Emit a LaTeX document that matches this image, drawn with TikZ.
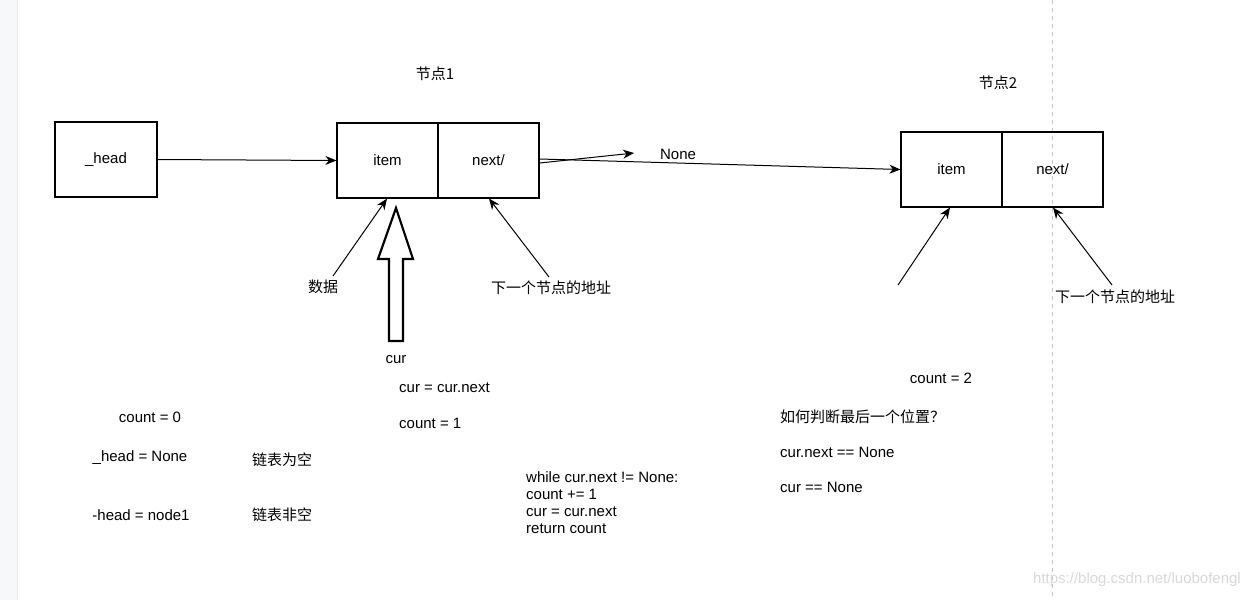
\documentclass[tikz,border=0pt]{standalone}
\usepackage{fontspec}
\setmainfont{Liberation Sans}
\newfontfamily\cjk{Noto Sans CJK SC}
\usetikzlibrary{arrows.meta}
\definecolor{stripbg}{HTML}{F7F8FA}
\definecolor{stripline}{HTML}{E8E9EC}
\definecolor{dashgray}{HTML}{C8C8C8}
\definecolor{wmark}{HTML}{D8D8D8}
\begin{document}
\begin{tikzpicture}[x=1pt,y=-1pt,
  every node/.style={font=\fontsize{15}{17}\selectfont, inner sep=0pt},
  box/.style={draw, line width=1.2pt, minimum width=101pt, minimum height=75pt},
  lblL/.style={anchor=west},
  conn/.style={line width=1pt, -{Stealth[length=11pt,width=9pt,inset=3.5pt]}},
  hollow/.style={draw, line width=2.2pt, fill=white, line join=miter}
]
\useasboundingbox (0,0) rectangle (1249,600);
\fill[stripbg] (0,0) rectangle (17,600);
\draw[stripline, line width=1pt] (17.5,0) -- (17.5,600);
\draw[dashgray, line width=1pt, dash pattern=on 4pt off 4pt] (1052,0) -- (1052,600);

% boxes
\node[box, minimum width=102pt] (head) at (106,159.5) {\_head};
\node[box] (item1) at (387.5,160.5) {item};
\node[box] (next1) at (488.5,160.5) {next/};
\node[box] (item2) at (951.5,169.5) {item};
\node[box] (next2) at (1052.5,169.5) {next/};

\node (t1) at (435,74) {\cjk 节点1};
\node (t2) at (998,83) {\cjk 节点2};

% connectors
\draw[conn] (head.east) -- (item1.west);
\coordinate (noneTip) at (634,153);
\draw[conn] ([yshift=-2.5pt]next1.east) -- (noneTip);
\node (none) at (678,154) {None};
\draw[conn] ([yshift=1.5pt]next1.east) -- (item2.west);

\node (data) at (323,287) {\cjk 数据};
\coordinate (dataS) at (333,276);
\draw[conn] (dataS) -- ([xshift=-0.5pt]item1.south);
\node (addr1) at (551,288) {\cjk 下一个节点的地址};
\coordinate (addr1S) at (549,277);
\draw[conn] (addr1S) -- (489,198.5);

\coordinate (itemS2) at (898,285);
\draw[conn] (itemS2) -- (950,207.5);
\node (addr2) at (1115,297) {\cjk 下一个节点的地址};
\coordinate (addr2S) at (1112,285);
\draw[conn] (addr2S) -- (1053,207.5);

% hollow arrow (cur)
\draw[hollow] (396,208) -- (413,259) -- (403,259) -- (403,341) -- (389,341) -- (389,259) -- (378,259) -- cycle;
\node (cur) at (396,360) {cur};

% texts
\node[lblL] (cc) at (399,388) {cur = cur.next};
\node[lblL] (c1) at (399,423) {count = 1};
\node (c0) at (150,417) {count = 0};
\node (hn) at (140,458) {\_head = None};
\node (empty) at (282,460) {\cjk 链表为空};
\node (hn1) at (141,515) {-head = node1};
\node (nempty) at (282,515) {\cjk 链表非空};

\node[lblL] (w1) at (526,477) {while cur.next != None:};
\node[lblL] (w2) at (526,494) {count += 1};
\node[lblL] (w3) at (526,512) {cur = cur.next};
\node[lblL] (w4) at (526,529) {return count};

\node (c2) at (941,378) {count = 2};
\node[lblL] (q) at (780,417) {\cjk 如何判断最后一个位置？};
\node[lblL] (e1) at (780,452) {cur.next == None};
\node[lblL] (e2) at (780,487) {cur == None};

\node[anchor=east, text=wmark] (wm) at (1241,580) {https://blog.csdn.net/luobofengl};
\end{tikzpicture}
\end{document}
